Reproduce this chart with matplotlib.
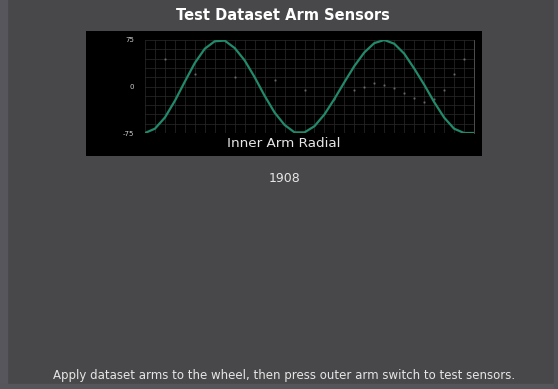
import matplotlib
matplotlib.use("Agg")
import matplotlib.pyplot as plt
from matplotlib.patches import Rectangle

# sensor samples (one sample per step)
sample_idx = list(range(34))
radial_vals = [-75, -68, -50, -23, 8, 38, 61, 73,
               74, 62, 42, 15, -15, -42, -62, -74,
               -74, -64, -45, -20, 7, 33, 55, 70,
               75, 69, 53, 29, 3, -25, -50, -68, -75, -75]

# faint secondary trace (barely visible dots)
noise_idx = [2, 5, 9, 13, 16, 19, 21, 22, 23, 24, 25, 26, 27, 28, 29, 30, 31, 32]
noise_vals = [45, 20, 15, 10, -5, -20, -5, 0, 5, 2, -3, -10, -18, -25, -20, -5, 20, 45]

y_ticks = [-75, 0, 75]
y_ticklabels = ["-75", "0", "75"]

title = "Test Dataset Arm Sensors"
panel_label = "Inner Arm Radial"
counter = "1908"
footer = "Apply dataset arms to the wheel, then press outer arm switch to test sensors."

W, H = 558, 389
fig = plt.figure(figsize=(W / 100, H / 100), dpi=100)
fig.patch.set_facecolor("#48484a")

# edge strips of the window
fig.patches.append(Rectangle((0, 0), 7 / W, 1, transform=fig.transFigure,
                             color="#56565c", zorder=0))
fig.patches.append(Rectangle((0, 0), 1, 5 / H, transform=fig.transFigure,
                             color="#55555a", zorder=0))
fig.patches.append(Rectangle((554 / W, 0), 4 / W, 1, transform=fig.transFigure,
                             color="#505056", zorder=0))

# black panel behind the plot
panel = fig.add_axes([86 / W, 1 - 156 / H, 396 / W, 125 / H])
panel.set_facecolor("black")
panel.set_xticks([])
panel.set_yticks([])
for s in panel.spines.values():
    s.set_visible(False)
panel.text(0.5, 0.1, panel_label, transform=panel.transAxes, ha="center",
           va="center", color="#e6e6e6", fontsize=9.7)

ax = fig.add_axes([145 / W, 1 - 133 / H, 329 / W, 93 / H])
ax.set_facecolor("black")
ax.set_xlim(0, 33)
ax.set_ylim(-75, 75)

# fine grid
for gx in range(0, 34):
    ax.axvline(gx, color="#2a2a2a", lw=0.5, zorder=1)
for gy in range(-75, 76, 15):
    ax.axhline(gy, color="#2a2a2a", lw=0.5, zorder=1)

ax.plot(noise_idx, noise_vals, ls="none", marker=".", ms=1.5,
        color="#8a8a8a", alpha=0.5, zorder=2)
ax.plot(sample_idx, radial_vals, color="#22896a", lw=1.6, zorder=3)

ax.set_xticks([])
ax.set_yticks(y_ticks)
ax.set_yticklabels(y_ticklabels, fontsize=5, color="#cfcfcf")
ax.tick_params(axis="y", length=0, pad=8)
for side, s in ax.spines.items():
    s.set_visible(side == "right")
    s.set_color("#5a5a5a")
    s.set_linewidth(0.6)

fig.text(283 / W, 1 - 15 / H, title, ha="center", va="center",
         color="white", fontsize=10.5, fontweight="bold")
fig.text(285 / W, 1 - 178 / H, counter, ha="center", va="center",
         color="#e6e6e6", fontsize=9)
fig.text(284 / W, 1 - 376 / H, footer, ha="center", va="center",
         color="#e6e6e6", fontsize=8.5)

fig.savefig("out.png", dpi=100, facecolor=fig.get_facecolor())
